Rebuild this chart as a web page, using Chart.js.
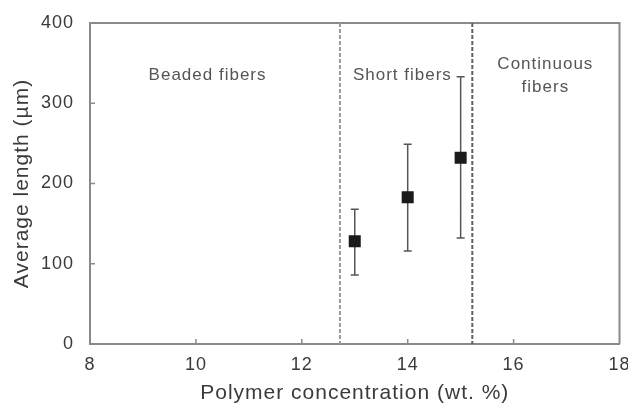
<!DOCTYPE html>
<html>
<head>
<meta charset="utf-8">
<script src="https://cdn.jsdelivr.net/npm/chart.js@4/dist/chart.umd.min.js"></script>
<style>
  html, body { margin: 0; padding: 0; background: #fff; }
  #wrap { width: 628px; height: 405px; }
</style>
</head>
<body>
<div id="wrap"><canvas id="c" width="628" height="405"></canvas></div>
<script>
// ---- data ----
const concentrations = [13, 14, 15];
const avgLength = [128, 183, 232];
const errLow = [86, 116, 132];
const errHigh = [168, 249, 333];
const xTicks = [8, 10, 12, 14, 16, 18];
const yTicks = [0, 100, 200, 300, 400];
const boundaries = [12.72, 15.22];
const regionLabels = [
  { text: ['Beaded fibers'], x: 10.22, y: 335 },
  { text: ['Short fibers'], x: 13.9, y: 335 },
  { text: ['Continuous', 'fibers'], x: 16.6, y: 349 }
];

const FONT = "'Liberation Sans', Arial, Helvetica, sans-serif";
const AXIS = '#8a8a8a';

const spacing = {
  id: 'spacing',
  beforeDraw(chart) { chart.ctx.letterSpacing = '1px'; }
};

const overlay = {
  id: 'overlay',
  beforeDatasetsDraw(chart) {
    const { ctx, scales: { x, y }, chartArea: a } = chart;
    ctx.save();
    // box top/right
    ctx.strokeStyle = AXIS;
    ctx.lineWidth = 2;
    ctx.beginPath();
    ctx.moveTo(a.left, a.top); ctx.lineTo(a.right, a.top); ctx.lineTo(a.right, a.bottom);
    ctx.stroke();
    // inward ticks
    ctx.lineWidth = 1.5;
    ctx.beginPath();
    xTicks.slice(1, -1).forEach(v => {
      const px = x.getPixelForValue(v);
      ctx.moveTo(px, a.bottom); ctx.lineTo(px, a.bottom - 5);
    });
    yTicks.slice(1, -1).forEach(v => {
      const py = y.getPixelForValue(v);
      ctx.moveTo(a.left, py); ctx.lineTo(a.left + 5, py);
    });
    ctx.stroke();
    // boundaries
    const bcol = ['#9a9a9a', '#606060'];
    boundaries.forEach((b, i) => {
      const px = x.getPixelForValue(b);
      ctx.strokeStyle = bcol[i];
      ctx.lineWidth = 2;
      ctx.setLineDash([4, 2]);
      ctx.beginPath();
      ctx.moveTo(px, a.top); ctx.lineTo(px, a.bottom);
      ctx.stroke();
    });
    ctx.setLineDash([]);
    // region labels
    ctx.fillStyle = '#555';
    ctx.font = '17px ' + FONT;
    ctx.letterSpacing = '1px';
    ctx.textAlign = 'center';
    ctx.textBaseline = 'middle';
    regionLabels.forEach(r => {
      const px = x.getPixelForValue(r.x);
      let py = y.getPixelForValue(r.y);
      r.text.forEach(t => { ctx.fillText(t, px, py); py += 23; });
    });
    // error bars
    ctx.strokeStyle = '#555';
    ctx.lineWidth = 1.5;
    ctx.beginPath();
    concentrations.forEach((c, i) => {
      const px = x.getPixelForValue(c);
      const lo = y.getPixelForValue(errLow[i]);
      const hi = y.getPixelForValue(errHigh[i]);
      ctx.moveTo(px, lo); ctx.lineTo(px, hi);
      ctx.moveTo(px - 4, lo); ctx.lineTo(px + 4, lo);
      ctx.moveTo(px - 4, hi); ctx.lineTo(px + 4, hi);
    });
    ctx.stroke();
    ctx.restore();
  }
};

new Chart(document.getElementById('c'), {
  type: 'scatter',
  data: {
    datasets: [{
      data: concentrations.map((c, i) => ({ x: c, y: avgLength[i] })),
      pointStyle: 'rect',
      pointRadius: 8.5,
      pointHoverRadius: 8.5,
      backgroundColor: '#1a1a1a',
      borderColor: '#1a1a1a',
      borderWidth: 0
    }]
  },
  options: {
    responsive: false,
    animation: false,
    events: [],
    layout: { padding: { top: 23, right: 6, left: 0, bottom: 0 } },
    plugins: { legend: { display: false }, tooltip: { enabled: false } },
    scales: {
      x: {
        type: 'linear', min: 8, max: 18,
        afterBuildTicks: s => { s.ticks = xTicks.map(v => ({ value: v })); },
        afterFit: s => { s.height = 61; s.paddingLeft = 0; s.paddingRight = 0; },
        grid: { display: false },
        border: { display: true, color: AXIS, width: 2 },
        ticks: { color: '#3a3a3a', font: { family: FONT, size: 18 }, padding: 2, maxRotation: 0 },
        title: { display: true, text: 'Polymer concentration (wt. %)', color: '#3a3a3a',
                 font: { family: FONT, size: 21, lineHeight: 1 }, padding: { top: 0, bottom: 1 } }
      },
      y: {
        type: 'linear', min: 0, max: 400,
        afterBuildTicks: s => { s.ticks = yTicks.map(v => ({ value: v })); },
        afterFit: s => { s.width = 90; s.paddingTop = 0; s.paddingBottom = 0; },
        grid: { display: false },
        border: { display: true, color: AXIS, width: 2 },
        ticks: { color: '#3a3a3a', font: { family: FONT, size: 18 }, padding: 8 },
        title: { display: true, text: 'Average length (µm)', color: '#3a3a3a',
                 font: { family: FONT, size: 21, lineHeight: 1 }, padding: { top: 12, bottom: 0 } }
      }
    }
  },
  plugins: [spacing, overlay]
});
</script>
</body>
</html>
